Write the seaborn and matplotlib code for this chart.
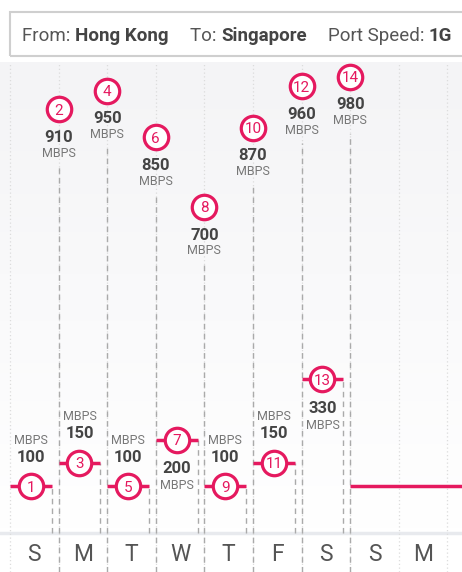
import numpy as np
import pandas as pd
import matplotlib
matplotlib.use("Agg")
import matplotlib.pyplot as plt
from matplotlib.patches import Rectangle
from matplotlib.colors import LinearSegmentedColormap
import seaborn as sns

# data
days = ['S', 'M', 'T', 'W', 'T', 'F', 'S', 'S', 'M']
offpeak_speed = [100, 150, 100, 200, 100, 150, 330]
peak_speed = [910, 950, 850, 700, 870, 960, 980]
tail_speed = 100
route_from = 'Hong Kong'
route_to = 'Singapore'
port_speed = '1G'

PINK = '#e5195f'
DARK = '#444444'
GREY = '#777777'
FONT = ['Liberation Sans Narrow', 'Roboto', 'DejaVu Sans']

sns.set_theme(style='white')
plt.rcParams['font.family'] = FONT

W, H = 462, 572
fig = plt.figure(figsize=(W / 100, H / 100), dpi=100)
ax = fig.add_axes([0, 0, 1, (H - 62) / H])

col_px = 48.6
x0_px = 10
px_per_mbps = 0.465
xlim = (-x0_px / col_px, (W - x0_px) / col_px)
ylim = (-(H - 532.5) / px_per_mbps, (532.5 - 62) / px_per_mbps)
ax.set_xlim(*xlim)
ax.set_ylim(*ylim)
ax.axis('off')

# background gradient and label band
grad = LinearSegmentedColormap.from_list('bg', ['#ffffff', '#f4f4f6'])
ax.imshow(np.linspace(0, 1, 100).reshape(-1, 1), cmap=grad, aspect='auto',
          extent=(xlim[0], xlim[1], ylim[1], 0), origin='upper', zorder=0)
ax.axhline(0, color='#e8eaee', lw=2.5, zorder=1)

n_cols = len(days)
for b in range(n_cols + 1):
    ax.vlines(b, ylim[0], ylim[1], color='#dcdcdc', lw=0.9,
              linestyle=(0, (1, 2)), zorder=1)

for i, d in enumerate(days):
    ax.text(i + 0.5, ylim[0] * 0.55, d, ha='center', va='center',
            fontsize=16.5, color='#555555')

seg_len = 0.86
low = pd.DataFrame({
    'x': [i + seg_len / 2 for i in range(len(offpeak_speed))],
    'speed': offpeak_speed,
    'label': [str(2 * i + 1) for i in range(len(offpeak_speed))],
})
high = pd.DataFrame({
    'x': [i + 1 for i in range(len(peak_speed))],
    'speed': peak_speed,
    'label': [str(2 * i + 2) for i in range(len(peak_speed))],
})

# off-peak steps
for i, v in enumerate(offpeak_speed):
    ax.hlines(v, i, i + seg_len, color=PINK, lw=2.5, zorder=3)
    ax.vlines(i + seg_len, 0, v, color='#aaaaaa', lw=1,
              linestyle=(0, (4, 3)), zorder=2)
ax.hlines(tail_speed, len(offpeak_speed), xlim[1], color=PINK, lw=2.5, zorder=3)

# peak dashed stems
gap = 57 / px_per_mbps
for i, v in enumerate(peak_speed):
    ax.vlines(i + 1, ylim[0], v - gap, color='#aaaaaa', lw=1,
              linestyle=(0, (4, 3)), zorder=2)

for df in (low, high):
    sns.scatterplot(data=df, x='x', y='speed', ax=ax, s=310, marker='o',
                    facecolor='white', edgecolor=PINK, linewidth=2.3,
                    zorder=4, legend=False)
    for _, r in df.iterrows():
        ax.text(r['x'], r['speed'], r['label'], ha='center', va='center_baseline',
                fontsize=11, color=PINK, zorder=5)


def value_label(x, y, val, below, d_val=29, d_unit=46):
    s = -1 if below else 1
    ax.annotate(str(val), (x, y), xytext=(0, s * d_val), textcoords='offset pixels',
                ha='center', va='center', fontsize=12, fontweight='bold', color=DARK)
    ax.annotate('MBPS', (x, y), xytext=(0, s * d_unit), textcoords='offset pixels',
                ha='center', va='center', fontsize=9, color=GREY)


for _, r in low.iterrows():
    value_label(r['x'], r['speed'], r['speed'], r['speed'] >= 200)
for _, r in high.iterrows():
    value_label(r['x'], r['speed'], r['speed'], True, 28, 44)

# header box
fig.add_artist(Rectangle((10 / W, (H - 56) / H), (W + 10) / W, 44 / H,
                         transform=fig.transFigure, fill=False,
                         ec='#cfcfcf', lw=1.5))
y_head = (H - 34) / H
hsize = 13.5
for x_px, key, val in [(22, 'From:', route_from), (190, 'To:', route_to)]:
    t = fig.text(x_px / W, y_head, key + ' ', ha='left', va='center_baseline',
                 fontsize=hsize, color='#555555')
    ax.annotate(val, xy=(1, 0), xycoords=t, ha='left', va='bottom',
                fontsize=hsize, fontweight='bold', color=DARK,
                annotation_clip=False)
t = fig.text(452 / W, y_head, port_speed, ha='right', va='center_baseline',
             fontsize=hsize, fontweight='bold', color=DARK)
ax.annotate('Port Speed: ', xy=(0, 0), xycoords=t, ha='right', va='bottom',
            fontsize=hsize, color='#555555', annotation_clip=False)

fig.savefig('out.png', dpi=100)
